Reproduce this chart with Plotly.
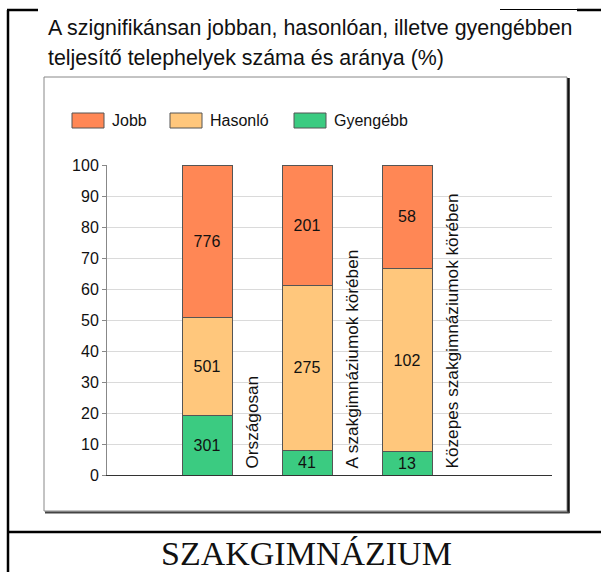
import plotly.graph_objects as go

# data (number of sites; bars are shown as % of the total)
categories = ["Országosan", "A szakgimnáziumok körében", "Közepes szakgimnáziumok körében"]
gyengebb = [301, 41, 13]
hasonlo = [501, 275, 102]
jobb = [776, 201, 58]

series_names = ["Jobb", "Hasonló", "Gyengébb"]
series_colors = ["#FF8755", "#FFC77C", "#3BCB81"]

title_lines = ["A szignifikánsan jobban, hasonlóan, illetve gyengébben",
               "teljesítő telephelyek száma és aránya (%)"]
footer = "SZAKGIMNÁZIUM"

W, H = 601, 572
L, R, T, B = 107, 552, 165, 475   # plot area in pixels


def px(x):
    return (x - L) / (R - L)


def py(y):
    return (B - y) / (B - T)


font = "Liberation Sans, Arial, sans-serif"

fig = go.Figure()
for name, vals, col in [("Gyengébb", gyengebb, series_colors[2]),
                        ("Hasonló", hasonlo, series_colors[1]),
                        ("Jobb", jobb, series_colors[0])]:
    fig.add_trace(go.Bar(
        x=categories, y=vals, name=name, width=0.5,
        marker=dict(color=col, line=dict(color="#555555", width=1)),
        text=[str(v) for v in vals], textposition="inside",
        insidetextanchor="middle", textangle=0,
        textfont=dict(family=font, size=16, color="#111111"),
        showlegend=False, hoverinfo="skip"))

fig.update_layout(
    width=W, height=H, barmode="stack", barnorm="percent",
    margin=dict(l=L, r=W - R, t=T, b=H - B),
    paper_bgcolor="white", plot_bgcolor="white",
    font=dict(family=font, size=16, color="#111111"),
    uniformtext=dict(mode="show", minsize=16),
)
fig.update_xaxes(range=[-1, 3.45], showticklabels=False, ticks="",
                 showgrid=False, zeroline=False,
                 showline=True, linecolor="#333333", linewidth=1)
fig.update_yaxes(range=[0, 100], dtick=10, ticks="outside", ticklen=4,
                 tickcolor="#888888", showgrid=True, gridcolor="#DADADA",
                 gridwidth=1, zeroline=False, showline=True,
                 linecolor="#888888", linewidth=1,
                 tickfont=dict(family=font, size=16, color="#111111"))

shapes = []
annotations = []

# category labels, rotated, to the right of each bar
for i, c in enumerate(categories):
    annotations.append(dict(x=i + 0.44, y=0, xref="x", yref="y", text=c,
                            textangle=-90, showarrow=False, xanchor="center",
                            yanchor="bottom", yshift=4,
                            font=dict(family=font, size=17.2, color="#111111")))

# legend (custom, wide swatches)
legend_x = [72, 170, 294]
for x0, name, col in zip(legend_x, series_names, series_colors):
    shapes.append(dict(type="rect", xref="paper", yref="paper",
                       x0=px(x0), x1=px(x0 + 32), y0=py(113), y1=py(128),
                       fillcolor=col, line=dict(color="#555555", width=1)))
    annotations.append(dict(x=px(x0 + 38), y=py(120.5), xref="paper", yref="paper",
                            text=name, showarrow=False, xanchor="left",
                            yanchor="middle",
                            font=dict(family=font, size=16, color="#111111")))

# inner chart frame with shadow on right/bottom
shapes.append(dict(type="rect", xref="paper", yref="paper",
                   x0=px(44), x1=px(567), y0=py(511), y1=py(77),
                   line=dict(color="#888888", width=1)))
shapes.append(dict(type="line", xref="paper", yref="paper",
                   x0=px(568.5), x1=px(568.5), y0=py(78), y1=py(513),
                   line=dict(color="#111111", width=2.5)))
shapes.append(dict(type="line", xref="paper", yref="paper",
                   x0=px(45), x1=px(569.5), y0=py(512.5), y1=py(512.5),
                   line=dict(color="#444444", width=2)))

# outer page frame
for x0, x1, y0, y1, w in [(8, 8, 10, 572, 2.5), (7, 38, 10, 10, 2.5),
                          (500, 577, 9.5, 9.5, 1), (577, 601, 10, 10, 2.5),
                          (7, 601, 532, 532, 2.5)]:
    shapes.append(dict(type="line", xref="paper", yref="paper",
                       x0=px(x0), x1=px(x1), y0=py(y0), y1=py(y1),
                       line=dict(color="black", width=w)))

# title lines
for k, line in enumerate(title_lines):
    annotations.append(dict(x=px(46), y=py(28 + 30 * k), xref="paper", yref="paper",
                            text=line, showarrow=False, xanchor="left",
                            yanchor="middle",
                            font=dict(family=font, size=21.4, color="#111111")))

annotations.append(dict(x=px(306), y=py(553), xref="paper", yref="paper",
                        text=footer, showarrow=False, xanchor="center",
                        yanchor="middle",
                        font=dict(family="Liberation Serif, serif", size=34,
                                  color="#111111")))

fig.update_layout(shapes=shapes, annotations=annotations)

# drop the default body margin so the 601x572 figure fills the window exactly
fig.write_html("out.html", config={"displayModeBar": False},
               post_script="document.body.style.margin = '0';")
